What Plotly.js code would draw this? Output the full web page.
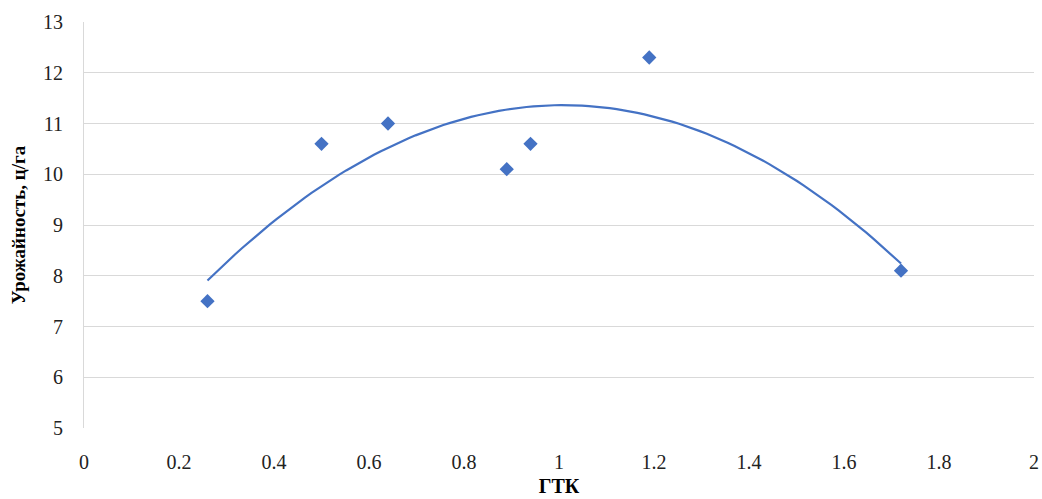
<!DOCTYPE html>
<html><head><meta charset="utf-8">
<script src="https://cdn.plot.ly/plotly-3.0.1.min.js"></script>
<style>html,body{margin:0;padding:0;background:#fff;}#chart{width:1042px;height:499px;}</style>
</head><body><div id="chart"></div>
<script>
const gtk = [0.26, 0.50, 0.64, 0.89, 0.94, 1.19, 1.72];
const yieldVals = [7.5, 10.6, 11.0, 10.1, 10.6, 12.3, 8.1];
const xTicks = [0, 0.2, 0.4, 0.6, 0.8, 1, 1.2, 1.4, 1.6, 1.8, 2];
const yTicks = [5, 6, 7, 8, 9, 10, 11, 12, 13];

// Quadratic least-squares trendline (as in Excel's polynomial trendline, order 2)
function polyfit2(xs, ys) {
  let S = [0,0,0,0,0], T = [0,0,0];
  for (let i = 0; i < xs.length; i++) {
    let p = 1;
    for (let k = 0; k < 5; k++) { S[k] += p; if (k < 3) T[k] += p * ys[i]; p *= xs[i]; }
  }
  const A = [[S[0],S[1],S[2],T[0]],[S[1],S[2],S[3],T[1]],[S[2],S[3],S[4],T[2]]];
  for (let c = 0; c < 3; c++) {
    for (let r = c+1; r < 3; r++) { const f = A[r][c]/A[c][c]; for (let k = c; k < 4; k++) A[r][k] -= f*A[c][k]; }
  }
  const b = [0,0,0];
  for (let r = 2; r >= 0; r--) { let s = A[r][3]; for (let k = r+1; k < 3; k++) s -= A[r][k]*b[k]; b[r] = s/A[r][r]; }
  return b;
}
const coef = polyfit2(gtk, yieldVals);
const xmin = Math.min(...gtk), xmax = Math.max(...gtk);
const tx = [], ty = [];
for (let i = 0; i <= 100; i++) { const x = xmin + (xmax - xmin) * i / 100; tx.push(x); ty.push(coef[0] + coef[1]*x + coef[2]*x*x); }

const fam = 'Times New Roman, Liberation Serif, serif';
const data = [
  {x: tx, y: ty, mode: 'lines', line: {color: '#4472C4', width: 2.2}, hoverinfo: 'skip', showlegend: false},
  {x: gtk, y: yieldVals, mode: 'markers', marker: {symbol: 'diamond', size: 11, color: '#4472C4'}, showlegend: false}
];
const layout = {
  width: 1042, height: 499,
  margin: {l: 84, r: 8, t: 22, b: 71},
  paper_bgcolor: '#fff', plot_bgcolor: '#fff',
  font: {family: fam, size: 20, color: '#222'},
  xaxis: {range: [0, 2], tickvals: xTicks, ticktext: xTicks.map(String), showgrid: false, zeroline: false,
    showline: false, ticks: '', ticklabelstandoff: 20,
    tickfont: {family: fam, size: 20, color: '#222'},
    title: {text: 'ГТК', font: {family: fam, size: 20, color: '#000', weight: 'bold'}, standoff: 6}},
  yaxis: {range: [5, 13], tickvals: yTicks, showgrid: true, gridcolor: '#d9d9d9', gridwidth: 1, zeroline: false,
    showline: true, linecolor: '#d9d9d9', linewidth: 1, ticks: '', ticklabelstandoff: 16,
    tickfont: {family: fam, size: 20, color: '#222'},
    title: {text: 'Урожайность, ц/га', font: {family: fam, size: 19, color: '#000', weight: 'bold'}, standoff: 12}},
};
Plotly.newPlot('chart', data, layout, {displayModeBar: false, staticPlot: true});
</script></body></html>
